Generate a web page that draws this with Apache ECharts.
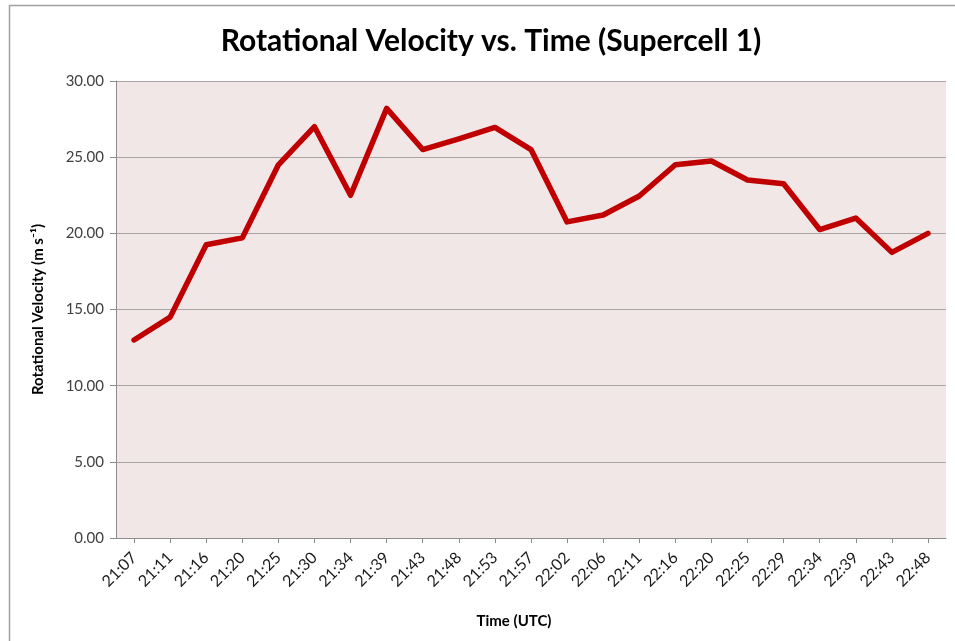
<!DOCTYPE html>
<html>
<head>
<meta charset="utf-8">
<script src="https://cdn.jsdelivr.net/npm/echarts@6/dist/echarts.min.js"></script>
<style>
  html, body { margin: 0; padding: 0; background: #fff; }
  #chart { width: 955px; height: 641px; }
</style>
</head>
<body>
<div id="chart"></div>
<script>
// times of each scan (UTC)
var times = ['21:07', '21:11', '21:16', '21:20', '21:25', '21:30', '21:34', '21:39',
    '21:43', '21:48', '21:53', '21:57', '22:02', '22:06', '22:11', '22:16',
    '22:20', '22:25', '22:29', '22:34', '22:39', '22:43', '22:48'];
// rotational velocity, m/s
var rotVel = [13.0, 14.5, 19.25, 19.7, 24.5, 27.0, 22.5, 28.2,
    25.5, 26.2, 26.95, 25.5, 20.75, 21.2, 22.45, 24.5,
    24.75, 23.5, 23.25, 20.25, 21.0, 18.75, 20.0];
var yTicks = { min: 0, max: 30, interval: 5 };

var font = 'Lato, "Open Sans", sans-serif';
var chart = echarts.init(document.getElementById('chart'));

var option = {
    backgroundColor: '#fff',
    animation: false,
    title: {
        text: 'Rotational Velocity vs. Time (Supercell 1)',
        left: 486,
        top: 21,
        textAlign: 'center',
        textStyle: { fontFamily: font, fontSize: 30, fontWeight: 'bold', color: '#000' }
    },
    graphic: [{
        type: 'rect',
        shape: { x: 9.5, y: 5.5, width: 960, height: 660 },
        style: { fill: 'none', stroke: '#a0a0a0', lineWidth: 1.5 },
        silent: true
    }],
    grid: {
        left: 116, top: 81, right: 9, bottom: 103,
        show: true,
        backgroundColor: '#f2e7e7',
        borderWidth: 0
    },
    xAxis: {
        type: 'category',
        data: times,
        boundaryGap: true,
        name: 'Time (UTC)',
        nameLocation: 'middle',
        nameGap: 76,
        nameTextStyle: { fontFamily: font, fontSize: 15, fontWeight: 'bold', color: '#000', padding: [0, 34, 0, 0] },
        axisLine: { lineStyle: { color: '#8c8c8c', width: 1 } },
        axisTick: { show: true, alignWithLabel: true, length: 5, lineStyle: { color: '#8c8c8c' } },
        axisLabel: {
            rotate: 45,
            margin: 17,
            fontFamily: font,
            fontSize: 16,
            color: '#1a1a1a'
        },
        splitLine: { show: false }
    },
    yAxis: {
        type: 'value',
        min: yTicks.min,
        max: yTicks.max,
        interval: yTicks.interval,
        name: 'Rotational Velocity (m s\u207B\u00B9)',
        nameLocation: 'middle',
        nameRotate: 90,
        nameGap: 70,
        nameTextStyle: { fontFamily: font, fontSize: 15, fontWeight: 'bold', color: '#000' },
        axisLine: { show: true, lineStyle: { color: '#8c8c8c', width: 1 } },
        axisTick: { show: true, length: 6, lineStyle: { color: '#8c8c8c' } },
        axisLabel: {
            margin: 12,
            fontFamily: font,
            fontSize: 15,
            color: '#404040',
            formatter: function (v) { return v.toFixed(2); }
        },
        splitLine: { show: true, lineStyle: { color: '#a8a4a4', width: 1 } }
    },
    series: [{
        name: 'Rotational Velocity',
        type: 'line',
        data: rotVel,
        symbol: 'none',
        lineStyle: { color: '#c00000', width: 5.5, join: 'round', cap: 'round' },
        itemStyle: { color: '#c00000' }
    }]
};

chart.setOption(option);
</script>
</body>
</html>
